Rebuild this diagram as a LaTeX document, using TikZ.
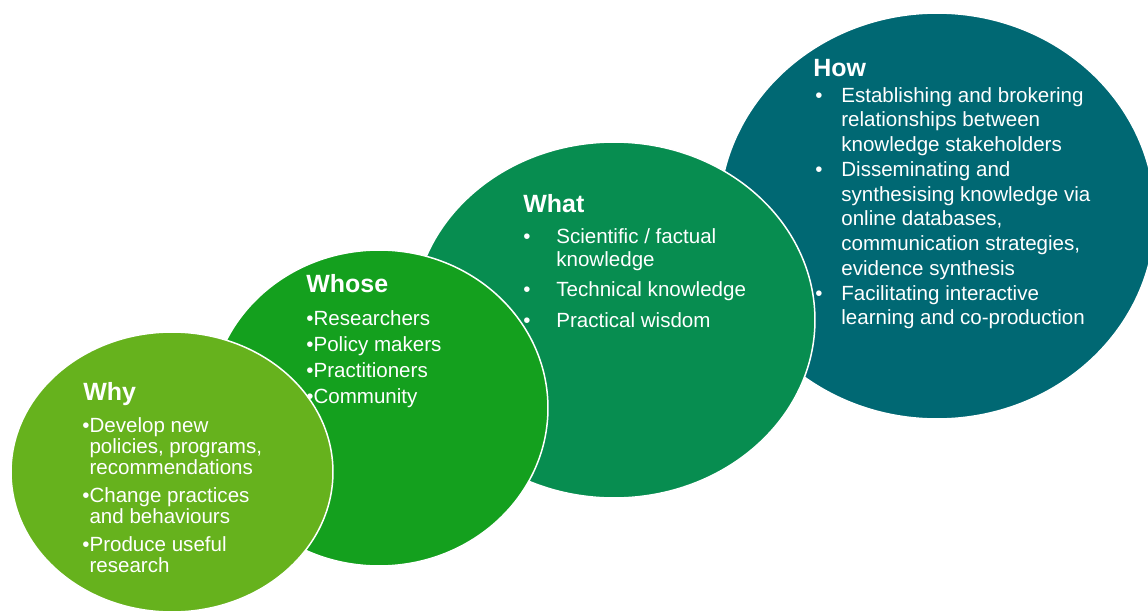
\documentclass[tikz,border=0pt]{standalone}
\usepackage{fontspec}
\setmainfont{Liberation Sans}
\usepackage{tikz}
\usetikzlibrary{shapes.geometric}
\definecolor{whycol}{HTML}{66B21D}
\definecolor{whosecol}{HTML}{14A01E}
\definecolor{whatcol}{HTML}{078D50}
\definecolor{howcol}{HTML}{006873}
\def\blob{\node[ellipse,draw=white,line width=0.03cm,inner sep=0pt]}
\tikzset{head/.style={anchor=base west,inner sep=0pt,text=white,font=\fontsize{14.2}{16}\selectfont\bfseries},
  list/.style={anchor=base west,inner sep=0pt,text=white}}

\begin{document}
\begin{tikzpicture}[x=0.02cm,y=-0.02cm]
\useasboundingbox (0,0) rectangle (1148,615);
\blob[fill=howcol,minimum width=8.72cm,minimum height=8.12cm] (how) at (937,216) {};
\blob[fill=whatcol,minimum width=8.04cm,minimum height=7.12cm] (what) at (614,320) {};
\blob[fill=whosecol,minimum width=6.76cm,minimum height=6.32cm] (whose) at (379,408) {};
\blob[fill=whycol,minimum width=6.44cm,minimum height=5.6cm] (why) at (172,472) {};
\node[head] (howtitle) at (813,76) {How};
\node[head] (whattitle) at (523,212) {What};
\node[head] (whosetitle) at (306,292) {Whose};
\node[head] (whytitle) at (83,400) {Why};
\node[list,font=\fontsize{11.7}{14.1}\selectfont] (howlist) at (815,102) {\begin{tabular}[t]{@{}p{0.52cm}@{}l@{}}
•&Establishing and brokering\\
&relationships between\\
&knowledge stakeholders\\
•&Disseminating and\\
&synthesising knowledge via\\
&online databases,\\
&communication strategies,\\
&evidence synthesis\\
•&Facilitating interactive\\
&learning and co-production
\end{tabular}};
\node[list,font=\fontsize{11.7}{13.1}\selectfont] (whatlist) at (523,243) {\begin{tabular}[t]{@{}p{0.66cm}@{}l@{}}
•&Scientific / factual\\
&knowledge\\[4.5pt]
•&Technical knowledge\\[4.5pt]
•&Practical wisdom
\end{tabular}};
\node[list,font=\fontsize{11.7}{14.8}\selectfont] (whoselist) at (306,325) {\begin{tabular}[t]{@{}l@{}l@{}}
•&Researchers\\
•&Policy makers\\
•&Practitioners\\
•&Community
\end{tabular}};
\node[list,font=\fontsize{11.7}{12.2}\selectfont] (whylist) at (82,432) {\begin{tabular}[t]{@{}l@{}l@{}}
•&Develop new\\
&policies, programs,\\
&recommendations\\[3.4pt]
•&Change practices\\
&and behaviours\\[3.4pt]
•&Produce useful\\
&research
\end{tabular}};
\end{tikzpicture}
\end{document}
